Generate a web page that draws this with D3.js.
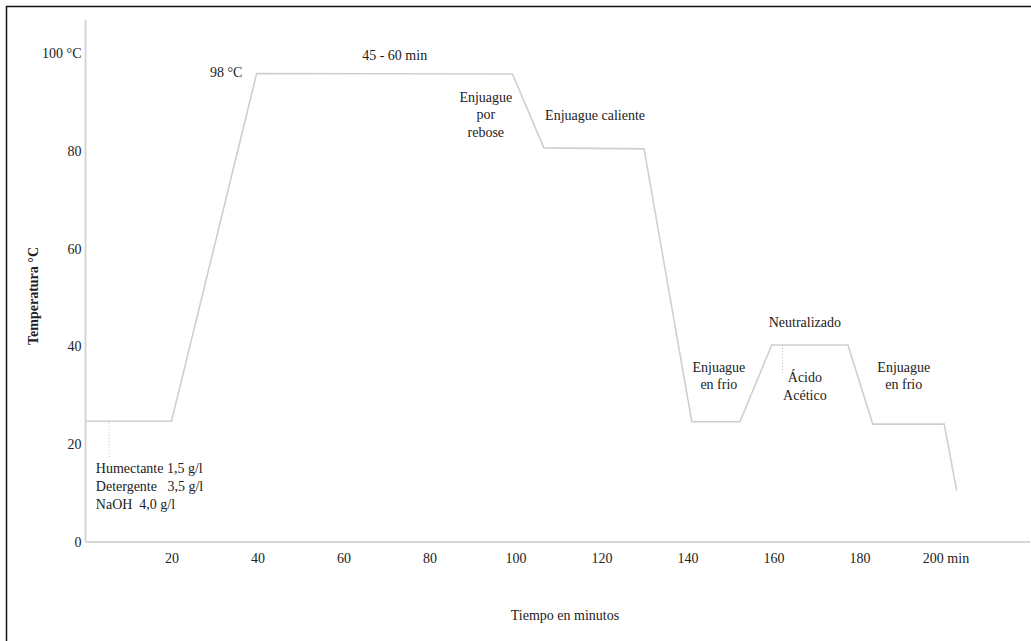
<!DOCTYPE html>
<html>
<head>
<meta charset="utf-8">
<script src="https://cdn.jsdelivr.net/npm/d3@7"></script>
<style>
  html, body { margin: 0; padding: 0; background: #fff; }
  svg { display: block; }
  text { font-family: "Liberation Serif", "Times New Roman", serif; fill: #222; white-space: pre; }
</style>
</head>
<body>
<svg id="chart" width="1031" height="641"></svg>
<script>
// ---- data ----
const timeMin = [0, 20, 39.8, 99.3, 106.6, 129.9, 141, 152.2, 159.6, 177.3, 183.1, 199.7, 202.6];
const tempC   = [24.7, 24.7, 95.8, 95.7, 80.6, 80.4, 24.6, 24.6, 40.3, 40.3, 24.1, 24.1, 10.5];

const xTicks = [20, 40, 60, 80, 100, 120, 140, 160, 180, 200];
const xTickLabels = ["20", "40", "60", "80", "100", "120", "140", "160", "180", "200 min"];
const yTicks = [0, 20, 40, 60, 80, 100];
const yTickLabels = ["0", "20", "40", "60", "80", "100 °C"];

const xTitle = "Tiempo en minutos";
const yTitle = "Temperatura °C";

// annotations (time, temperature, lines, anchor)
const annotTime  = [32.7, 71.9, 93.1, 118.5, 167.3, 147.3, 167.3, 190.3, 2.4];
const annotTemp  = [96.1, 99.6, 91.0, 87.3, 45.0, 35.8, 33.7, 35.8, 15.1];
const annotText  = [
  ["98 °C"],
  ["45 - 60 min"],
  ["Enjuague", "por", "rebose"],
  ["Enjuague caliente"],
  ["Neutralizado"],
  ["Enjuague", "en frio"],
  ["Ácido", "Acético"],
  ["Enjuague", "en frio"],
  ["Humectante 1,5 g/l", "Detergente   3,5 g/l", "NaOH  4,0 g/l"]
];
const annotAnchor = ["middle", "middle", "middle", "middle", "middle", "middle", "middle", "middle", "start"];

// dotted markers [time, fromTemp, toTemp]
const markerTime = [5.5, 162.1];
const markerFrom = [24.3, 40.3];
const markerTo   = [17.2, 34.6];

// ---- drawing ----
const svg = d3.select("#chart");
const x = d3.scaleLinear().domain([0, 200]).range([85.5, 945.5]);
const y = d3.scaleLinear().domain([0, 100]).range([542, 53]);

// frame
svg.append("line").attr("x1", 6.5).attr("x2", 6.5).attr("y1", 6).attr("y2", 641)
  .attr("stroke", "#111").attr("stroke-width", 1.5);
svg.append("line").attr("x1", 6).attr("x2", 1031).attr("y1", 6.5).attr("y2", 6.5)
  .attr("stroke", "#111").attr("stroke-width", 1.5);

const axisColor = "#d6d6d6";

// x axis
const xAxis = svg.append("g").attr("transform", `translate(0,${y(0)})`)
  .call(d3.axisBottom(x).tickValues(xTicks).tickSize(0).tickPadding(11)
    .tickFormat((d, i) => xTickLabels[i]));
xAxis.select(".domain").remove();
xAxis.append("line").attr("x1", x(0)).attr("x2", 1030).attr("y1", 0).attr("y2", 0)
  .attr("stroke", axisColor).attr("stroke-width", 2);
xAxis.selectAll(".tick text").attr("font-size", 14)
  .attr("font-family", "Liberation Serif, serif").attr("fill", "#222");

// y axis
const yAxis = svg.append("g").attr("transform", `translate(${x(0)},0)`)
  .call(d3.axisLeft(y).tickValues(yTicks).tickSize(0).tickPadding(4)
    .tickFormat((d, i) => yTickLabels[i]));
yAxis.select(".domain").remove();
yAxis.append("line").attr("x1", 0).attr("x2", 0).attr("y1", 20).attr("y2", y(0))
  .attr("stroke", axisColor).attr("stroke-width", 2);
yAxis.selectAll(".tick text").attr("font-size", 14)
  .attr("font-family", "Liberation Serif, serif").attr("fill", "#222");

// line
const pts = timeMin.map((t, i) => [t, tempC[i]]);
svg.append("path")
  .datum(pts)
  .attr("fill", "none")
  .attr("stroke", "#cfcfcf")
  .attr("stroke-width", 1.6)
  .attr("stroke-linejoin", "miter")
  .attr("d", d3.line().x(d => x(d[0])).y(d => y(d[1])));

// dotted markers
markerTime.forEach((t, i) => {
  svg.append("line")
    .attr("x1", x(t)).attr("x2", x(t))
    .attr("y1", y(markerFrom[i])).attr("y2", y(markerTo[i]))
    .attr("stroke", "#bbb").attr("stroke-width", 1)
    .attr("stroke-dasharray", "1,2");
});

// annotations
annotText.forEach((lines, i) => {
  const lh = i === 8 ? 18 : 17.5;
  const t = svg.append("text")
    .attr("x", x(annotTime[i]))
    .attr("y", y(annotTemp[i]))
    .attr("text-anchor", annotAnchor[i])
    .attr("font-size", 14);
  lines.forEach((l, j) => {
    t.append("tspan")
      .attr("x", x(annotTime[i]))
      .attr("y", y(annotTemp[i]) + j * lh)
      .attr("dy", "0.35em")
      .text(l);
  });
});

// axis titles
svg.append("text")
  .attr("x", 565).attr("y", 615).attr("dy", "0.35em")
  .attr("text-anchor", "middle").attr("font-size", 14)
  .text(xTitle);

svg.append("text")
  .attr("transform", "translate(33,296) rotate(-90)")
  .attr("dy", "0.35em")
  .attr("text-anchor", "middle").attr("font-size", 14).attr("font-weight", "bold")
  .text(yTitle);
</script>
</body>
</html>
